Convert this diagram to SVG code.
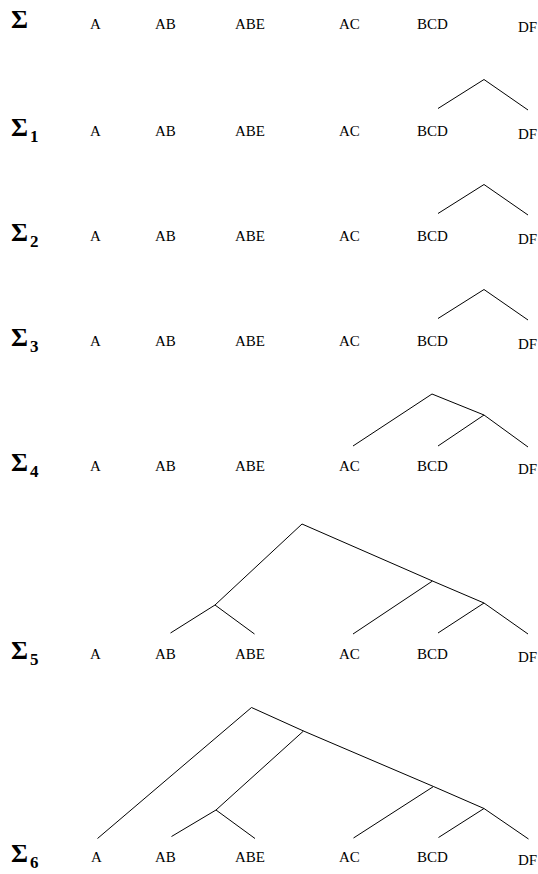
<svg xmlns="http://www.w3.org/2000/svg" width="538" height="874" viewBox="0 0 538 874">
<style>
  .lbl { font-family: "Liberation Serif", "Times New Roman", serif; font-size: 15px; fill: #000; }
  .sig { font-family: "Liberation Serif", "Times New Roman", serif; font-size: 26px; font-weight: bold; fill: #000; }
  .sub { font-size: 17px; font-weight: bold; }
  .edges line, .edges polyline { stroke: #000; stroke-width: 1; fill: none; }
</style>
<rect width="538" height="874" fill="#fff"/>

<!-- Row 0 -->
<g id="row0">
  <g id="r0-sigma"><text class="sig" x="11" y="28">Σ</text></g>
  <g id="r0-A"><text class="lbl" x="90" y="29">A</text></g>
  <g id="r0-AB"><text class="lbl" x="155" y="29">AB</text></g>
  <g id="r0-ABE"><text class="lbl" x="235" y="29">ABE</text></g>
  <g id="r0-AC"><text class="lbl" x="339" y="29">AC</text></g>
  <g id="r0-BCD"><text class="lbl" x="417" y="29">BCD</text></g>
  <g id="r0-DF"><text class="lbl" x="518" y="32">DF</text></g>
</g>

<!-- Row 1 -->
<g id="row1">
  <g id="r1-sigma"><text class="sig" x="11" y="136">Σ<tspan class="sub" dx="2" dy="6">1</tspan></text></g>
  <g id="r1-A"><text class="lbl" x="90" y="136">A</text></g>
  <g id="r1-AB"><text class="lbl" x="155" y="136">AB</text></g>
  <g id="r1-ABE"><text class="lbl" x="235" y="136">ABE</text></g>
  <g id="r1-AC"><text class="lbl" x="339" y="136">AC</text></g>
  <g id="r1-BCD"><text class="lbl" x="417" y="136">BCD</text></g>
  <g id="r1-DF"><text class="lbl" x="518" y="139">DF</text></g>
</g>

<!-- Row 2 -->
<g id="row2">
  <g id="r2-sigma"><text class="sig" x="11" y="241">Σ<tspan class="sub" dx="2" dy="6">2</tspan></text></g>
  <g id="r2-A"><text class="lbl" x="90" y="241">A</text></g>
  <g id="r2-AB"><text class="lbl" x="155" y="241">AB</text></g>
  <g id="r2-ABE"><text class="lbl" x="235" y="241">ABE</text></g>
  <g id="r2-AC"><text class="lbl" x="339" y="241">AC</text></g>
  <g id="r2-BCD"><text class="lbl" x="417" y="241">BCD</text></g>
  <g id="r2-DF"><text class="lbl" x="518" y="244">DF</text></g>
</g>

<!-- Row 3 -->
<g id="row3">
  <g id="r3-sigma"><text class="sig" x="11" y="346">Σ<tspan class="sub" dx="2" dy="6">3</tspan></text></g>
  <g id="r3-A"><text class="lbl" x="90" y="346">A</text></g>
  <g id="r3-AB"><text class="lbl" x="155" y="346">AB</text></g>
  <g id="r3-ABE"><text class="lbl" x="235" y="346">ABE</text></g>
  <g id="r3-AC"><text class="lbl" x="339" y="346">AC</text></g>
  <g id="r3-BCD"><text class="lbl" x="417" y="346">BCD</text></g>
  <g id="r3-DF"><text class="lbl" x="518" y="349">DF</text></g>
</g>

<!-- Row 4 -->
<g id="row4">
  <g id="r4-sigma"><text class="sig" x="11" y="471">Σ<tspan class="sub" dx="2" dy="6">4</tspan></text></g>
  <g id="r4-A"><text class="lbl" x="90" y="471">A</text></g>
  <g id="r4-AB"><text class="lbl" x="155" y="471">AB</text></g>
  <g id="r4-ABE"><text class="lbl" x="235" y="471">ABE</text></g>
  <g id="r4-AC"><text class="lbl" x="339" y="471">AC</text></g>
  <g id="r4-BCD"><text class="lbl" x="417" y="471">BCD</text></g>
  <g id="r4-DF"><text class="lbl" x="518" y="474">DF</text></g>
</g>

<!-- Row 5 -->
<g id="row5">
  <g id="r5-sigma"><text class="sig" x="11" y="659">Σ<tspan class="sub" dx="2" dy="6">5</tspan></text></g>
  <g id="r5-A"><text class="lbl" x="90" y="659">A</text></g>
  <g id="r5-AB"><text class="lbl" x="155" y="659">AB</text></g>
  <g id="r5-ABE"><text class="lbl" x="235" y="659">ABE</text></g>
  <g id="r5-AC"><text class="lbl" x="339" y="659">AC</text></g>
  <g id="r5-BCD"><text class="lbl" x="417" y="659">BCD</text></g>
  <g id="r5-DF"><text class="lbl" x="518" y="662">DF</text></g>
</g>

<!-- Row 6 -->
<g id="row6">
  <g id="r6-sigma"><text class="sig" x="11" y="862">Σ<tspan class="sub" dx="2" dy="6">6</tspan></text></g>
  <g id="r6-A"><text class="lbl" x="91" y="862">A</text></g>
  <g id="r6-AB"><text class="lbl" x="155" y="862">AB</text></g>
  <g id="r6-ABE"><text class="lbl" x="235" y="862">ABE</text></g>
  <g id="r6-AC"><text class="lbl" x="339" y="862">AC</text></g>
  <g id="r6-BCD"><text class="lbl" x="417" y="862">BCD</text></g>
  <g id="r6-DF"><text class="lbl" x="518" y="865">DF</text></g>
</g>

<!-- Connectors -->
<g id="connectors" class="edges">
  <!-- Row 1 -->
  <polyline points="438,108.5 484,79.5 528,110"/>
  <!-- Row 2 -->
  <polyline points="438,213.5 484,184.5 528,215"/>
  <!-- Row 3 -->
  <polyline points="438,318.5 484,289.5 528,320"/>
  <!-- Row 4 -->
  <polyline points="353,446 432,394 484,415 528,447"/>
  <line x1="438" y1="446" x2="484" y2="415"/>
  <!-- Row 5 -->
  <polyline points="215,605 302,524 432.5,581 484,603 528,634"/>
  <line x1="170.5" y1="633" x2="215" y2="605"/>
  <line x1="215" y1="605" x2="254.5" y2="634"/>
  <line x1="353" y1="634" x2="432.5" y2="581"/>
  <line x1="438" y1="633" x2="484" y2="603"/>
  <!-- Row 6 -->
  <polyline points="97.5,838.5 251.5,707.5 303.5,731 433.5,786.5 484,808.5 528.5,839"/>
  <line x1="216" y1="810" x2="303.5" y2="731"/>
  <line x1="171.5" y1="836.5" x2="216" y2="810"/>
  <line x1="216" y1="810" x2="255" y2="838.5"/>
  <line x1="353.5" y1="838" x2="433.5" y2="786.5"/>
  <line x1="438.5" y1="837.5" x2="484" y2="808.5"/>
</g>
</svg>
